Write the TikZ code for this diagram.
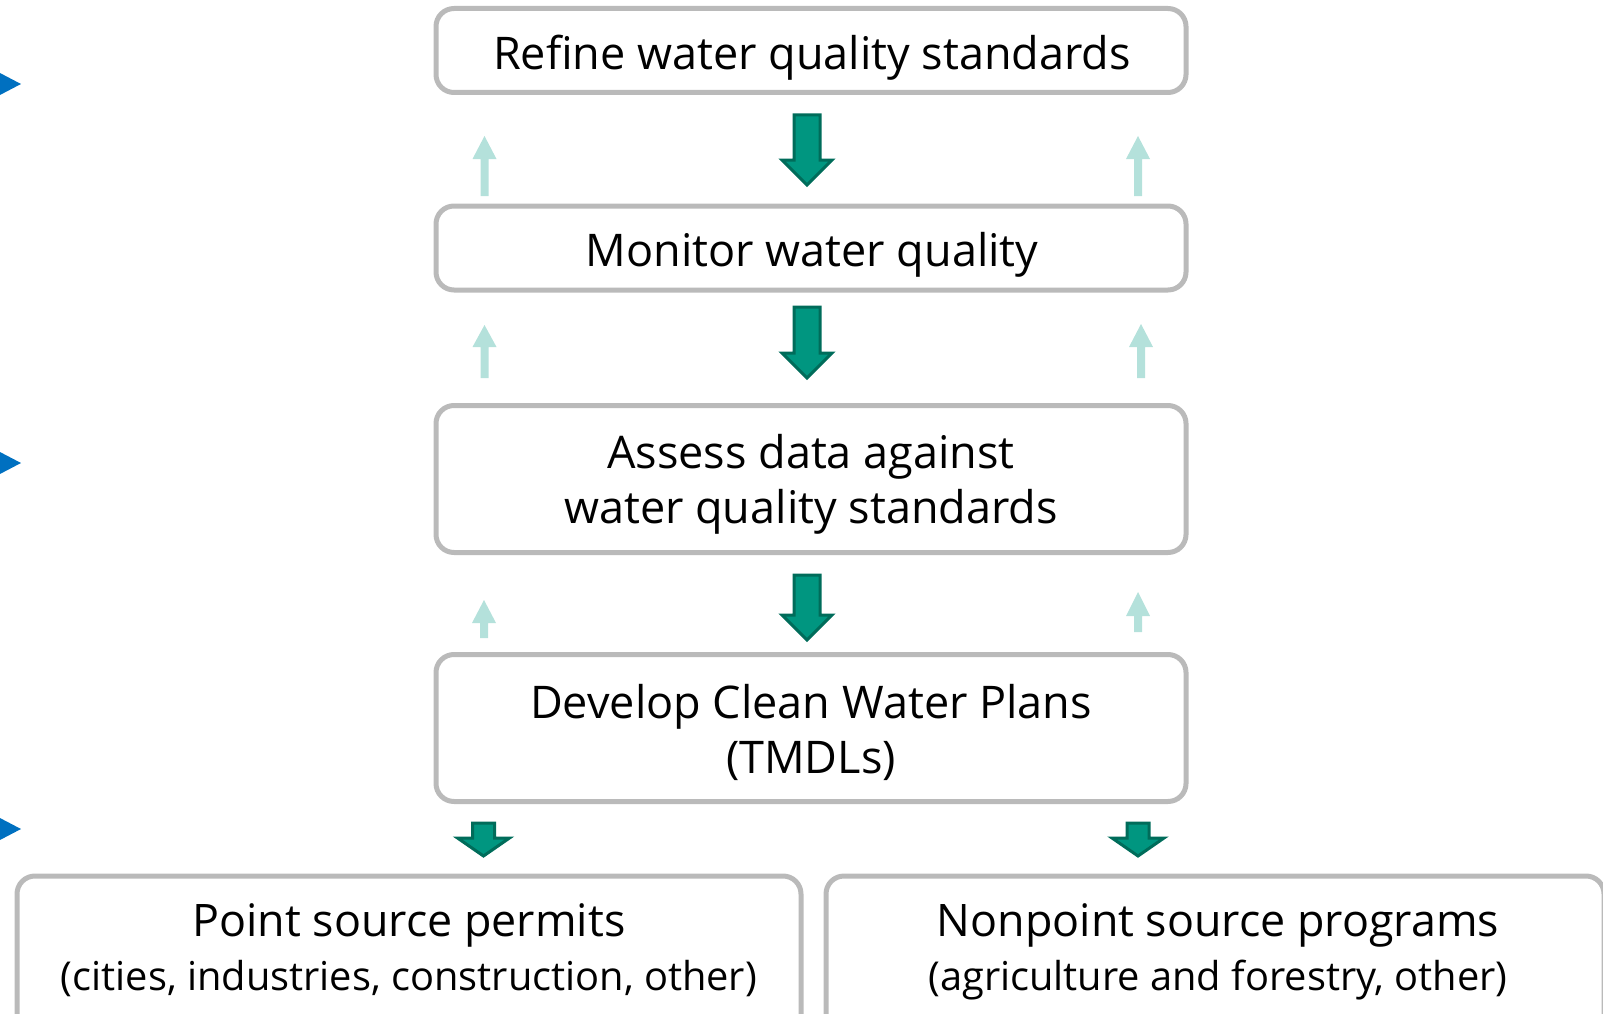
\documentclass[tikz,border=0pt]{standalone}
\usepackage{fontspec}
\setmainfont{Open Sans}
\definecolor{boxgray}{RGB}{186,186,186}
\definecolor{darkfill}{RGB}{0,150,128}
\definecolor{darkedge}{RGB}{0,108,90}
\definecolor{lightarr}{RGB}{180,225,219}
\definecolor{bluetri}{RGB}{0,112,192}
\newcommand{\dnarrow}[6]{\draw[darrowstyle] (#1-#5,#2) -- (#1+#5,#2) -- (#1+#5,#3) -- (#1+#6,#3) -- (#1,#4) -- (#1-#6,#3) -- (#1-#5,#3) -- cycle;}
\newcommand{\uparrowL}[4]{\fill[lightarr] (#1,#2) -- (#1+12,#3) -- (#1+4,#3) -- (#1+4,#4) -- (#1-4,#4) -- (#1-4,#3) -- (#1-12,#3) -- cycle;}
\tikzset{
  box/.style={draw=boxgray, line width=5pt, rounded corners=18pt, fill=white, inner sep=0pt},
  darrowstyle/.style={fill=darkfill, draw=darkedge, line width=3pt, line join=miter},
  maintext/.style={anchor=base, inner sep=0pt, font=\fontsize{45}{55}\selectfont},
  subtext/.style={anchor=base, inner sep=0pt, font=\fontsize{44.8}{54}\selectfont},
  smalltext/.style={anchor=base, inner sep=0pt, font=\fontsize{39.8}{54}\selectfont},
}
\begin{document}
\begin{tikzpicture}[x=1pt,y=-1pt]
\useasboundingbox (0,0) rectangle (1603,1014);
\clip (0,0) rectangle (1603,1014);
% boxes
\node[box, minimum width=750pt, minimum height=84pt] (b1) at (811,50.5) {};
\node[box, minimum width=750pt, minimum height=84pt] (b2) at (811,248) {};
\node[box, minimum width=750pt, minimum height=147pt] (b3) at (811,479) {};
\node[box, minimum width=750pt, minimum height=147pt] (b4) at (811,728) {};
\node[box, minimum width=784pt, minimum height=180pt, anchor=north] (b5) at (409,873.5) {};
\node[box, minimum width=778pt, minimum height=180pt, anchor=north] (b6) at (1215,873.5) {};
% texts
\node[maintext] (t1) at (812,69.5) {Refine water quality standards};
\node[maintext] (t2) at (812,266) {Monitor water quality};
\node[maintext] (t3a) at (811,468) {Assess data against};
\node[maintext] (t3b) at (811,523) {water quality standards};
\node[maintext] (t4a) at (811,718) {Develop Clean Water Plans};
\node[maintext] (t4b) at (811,773) {(TMDLs)};
\node[subtext] (t5a) at (409,936) {Point source permits};
\node[smalltext] (t5b) at (409,990) {(cities, industries, construction, other)};
\node[subtext] (t6a) at (1218,936) {Nonpoint source programs};
\node[smalltext] (t6b) at (1218,990) {(agriculture and forestry, other)};
% dark green arrows
\dnarrow{807}{115}{160}{185}{13}{25}
\dnarrow{807}{307}{353}{378}{13}{25}
\dnarrow{807}{575}{615}{640}{13}{25}
\dnarrow{483.5}{823}{838}{856}{11}{26}
\dnarrow{1138}{823}{838}{856}{11}{26}
% light arrows
\uparrowL{484.5}{136}{159}{196}
\uparrowL{1138}{136}{159}{196}
\uparrowL{484.5}{325}{347}{378}
\uparrowL{1141}{324}{347}{378}
\uparrowL{484}{600}{623}{638}
\uparrowL{1138}{592}{616}{632}
% blue triangles
\fill[bluetri] (-10,67.8) -- (21,84) -- (-10,100.2) -- cycle;
\fill[bluetri] (-10,446.8) -- (21,463) -- (-10,479.2) -- cycle;
\fill[bluetri] (-10,812.8) -- (21,829) -- (-10,845.2) -- cycle;
\end{tikzpicture}
\end{document}
